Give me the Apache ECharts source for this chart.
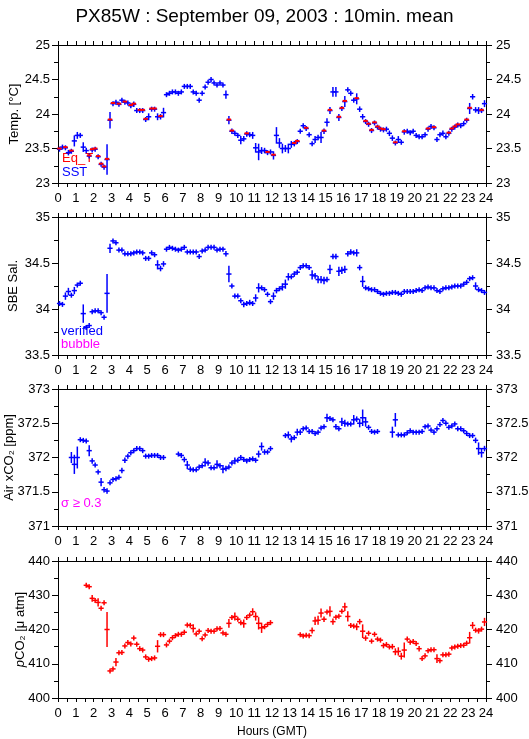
<!DOCTYPE html>
<html>
<head>
<meta charset="utf-8">
<script src="https://cdn.jsdelivr.net/npm/echarts@6/dist/echarts.min.js"></script>
<style>
html,body{margin:0;padding:0;background:#fff;}
#chart{width:529px;height:739px;}
</style>
</head>
<body>
<div id="chart"></div>
<script>
// ---- data: 10-minute means, index i covers hour (i+0.5)/6 ----
const hourTicks = [0,1,2,3,4,5,6,7,8,9,10,11,12,13,14,15,16,17,18,19,20,21,22,23,24];

const sst = [
 23.49,23.52,23.51,23.44,23.46,23.61,23.69,23.69,23.52,23.47,23.39,23.48,
 23.49,23.38,23.27,23.23,23.34,23.91,24.15,24.17,24.14,24.20,24.17,24.16,
 24.12,24.14,24.05,24.05,24.05,23.92,23.96,24.07,24.07,23.96,23.96,24.02,
 24.28,24.30,24.32,24.32,24.30,24.32,24.40,24.40,24.40,24.32,24.30,24.20,
 24.30,24.39,24.46,24.50,24.45,24.42,24.45,24.42,24.28,23.91,23.75,23.72,
 23.69,23.62,23.64,23.71,23.70,23.69,23.51,23.45,23.47,23.47,23.44,23.45,
 23.40,23.69,23.58,23.50,23.50,23.50,23.56,23.57,23.60,23.75,23.83,23.79,
 23.70,23.57,23.63,23.66,23.66,23.75,23.88,24.05,24.32,24.32,23.95,24.08,
 24.18,24.35,24.30,24.20,24.22,24.07,23.96,23.89,23.85,23.76,23.87,23.81,
 23.78,23.77,23.78,23.72,23.65,23.58,23.63,23.59,23.74,23.75,23.73,23.75,
 23.69,23.67,23.67,23.70,23.78,23.82,23.80,23.63,23.70,23.72,23.67,23.72,
 23.78,23.81,23.84,23.83,23.86,23.91,24.08,24.25,24.06,24.05,24.05,24.15
];
const sstErr = [
 0,0,0,0.04,0,0.08,0.05,0.03,0.07,0.04,0,0,
 0,0,0,0,0.22,0.12,0,0,0,0,0,0,
 0,0.04,0,0,0.03,0,0.05,0,0,0.05,0.04,0.07,
 0.03,0,0,0,0,0,0,0,0,0,0,0,
 0,0,0,0,0,0,0,0,0.06,0.06,0.04,0,
 0,0.06,0.04,0.04,0,0.05,0.07,0.12,0.05,0.04,0,0,
 0.06,0.12,0.07,0.07,0.05,0.07,0.05,0.04,0,0,0.03,0,
 0,0,0.05,0.04,0.08,0.04,0.06,0.05,0.07,0.07,0.05,0,
 0.08,0,0,0.03,0.08,0.04,0.04,0,0,0,0,0,
 0,0,0,0.04,0.04,0.03,0.05,0,0.04,0,0,0,
 0,0,0,0,0,0,0,0.03,0,0.04,0,0,
 0,0,0,0,0,0,0.08,0.04,0.04,0.05,0,0.05
];
const eqT = [
 23.50,null,23.52,null,23.47,null,null,null,null,null,23.40,23.49,
 23.50,23.39,23.28,23.24,23.35,23.92,24.16,null,24.15,null,24.18,null,
 24.13,24.15,null,24.06,24.06,23.93,null,24.08,24.08,null,23.97,null,
 null,null,null,null,null,null,null,null,null,null,null,null,
 null,null,null,null,null,null,null,null,null,23.92,23.76,null,
 null,null,null,23.72,null,null,null,null,null,null,23.45,null,
 23.41,null,null,null,null,null,null,23.58,23.61,null,null,23.80,
 null,null,null,null,null,23.76,null,24.06,null,null,23.96,24.09,
 24.19,null,null,null,24.23,null,null,23.90,23.86,23.77,23.88,23.82,
 23.79,23.78,null,null,null,23.59,null,null,23.75,null,null,null,
 null,null,null,null,23.79,null,23.81,null,null,null,null,23.73,
 23.79,23.82,23.85,null,null,23.92,24.09,null,null,null,24.06,null
];

const sal = [
 34.06,34.05,34.14,34.19,34.15,34.20,34.26,34.28,33.95,33.80,33.82,33.97,
 33.98,33.98,33.96,33.91,34.17,34.66,34.74,34.72,34.64,34.64,34.60,34.60,
 34.60,34.61,34.62,34.62,34.61,34.55,34.55,34.61,34.59,34.48,34.44,34.49,
 34.65,34.67,34.66,34.65,34.64,34.65,34.67,34.62,34.62,34.62,34.62,34.57,
 34.63,34.64,34.67,34.67,34.67,34.64,34.65,34.65,34.60,34.38,34.25,34.14,
 34.14,34.09,34.05,34.06,34.07,34.06,34.12,34.23,34.23,34.21,34.16,34.08,
 34.14,34.20,34.22,34.24,34.27,34.35,34.35,34.38,34.40,34.45,34.47,34.47,
 34.45,34.37,34.36,34.32,34.32,34.31,34.32,34.43,34.57,34.57,34.41,34.42,
 34.43,34.60,34.62,34.61,34.61,34.45,34.30,34.23,34.22,34.21,34.21,34.19,
 34.17,34.16,34.17,34.17,34.18,34.18,34.17,34.16,34.19,34.19,34.19,34.19,
 34.20,34.21,34.20,34.23,34.24,34.23,34.23,34.20,34.19,34.22,34.23,34.23,
 34.24,34.25,34.25,34.25,34.27,34.29,34.33,34.34,34.25,34.21,34.20,34.18
];
const salErr = [
 0,0,0.04,0.04,0,0.04,0,0,0.10,0,0,0,
 0,0,0,0,0.21,0.05,0,0,0,0,0,0,
 0,0,0,0,0,0,0,0,0,0.05,0.03,0.03,
 0,0,0,0,0,0,0,0,0,0,0,0,
 0,0,0,0,0,0,0,0,0.03,0.09,0.02,0,
 0,0,0.03,0,0.03,0,0.04,0.05,0,0,0,0,
 0.04,0.03,0,0.04,0.05,0.04,0,0.03,0,0,0,0,
 0,0.05,0.03,0.04,0.04,0.04,0.03,0.05,0.03,0.03,0.05,0.04,
 0.04,0.03,0.03,0,0.04,0.03,0.06,0,0,0,0,0,
 0,0,0,0,0,0,0,0,0,0,0,0,
 0,0,0,0,0,0,0,0,0,0,0,0,
 0,0,0,0,0,0,0,0,0.04,0,0,0
];

const airCO2 = [
 null,null,null,null,372.00,371.90,372.00,372.26,372.25,372.24,372.10,371.95,
 371.89,371.79,371.64,371.53,371.51,371.63,371.68,371.69,371.71,371.81,371.96,372.02,
 372.07,372.10,372.13,372.13,372.10,372.02,372.02,372.03,372.03,372.03,372.00,372.00,
 null,null,null,null,372.05,372.03,371.97,371.89,371.83,371.82,371.82,371.86,
 371.88,371.93,371.92,371.85,371.85,371.90,371.88,371.83,371.84,371.86,371.92,371.95,
 371.96,372.00,371.97,371.95,371.97,371.98,371.96,372.05,372.16,372.08,372.08,372.13,
 null,null,null,null,372.32,372.33,372.27,372.29,372.37,372.37,372.42,372.43,
 372.38,372.38,372.35,372.37,372.43,372.45,372.58,372.57,372.55,372.45,372.42,372.52,
 372.50,372.49,372.49,372.55,372.56,372.50,372.58,372.52,372.44,372.38,372.37,372.38,
 null,null,null,null,372.37,372.55,372.33,372.33,372.33,372.36,372.39,372.37,
 372.37,372.37,372.38,372.45,372.46,372.40,372.37,372.42,372.48,372.54,372.50,372.44,
 372.46,372.49,372.42,372.42,372.39,372.35,372.32,372.32,372.25,372.13,372.07,372.13
];
const airErr = [
 0,0,0,0,0.08,0.14,0.16,0,0,0,0.08,0.04,
 0,0,0.06,0.04,0.04,0,0,0,0,0.04,0.04,0,
 0,0,0,0,0,0,0,0,0,0,0,0,
 0,0,0,0,0,0,0.04,0.06,0.04,0,0,0,
 0,0.06,0.04,0,0,0.06,0,0.06,0.04,0,0,0.05,
 0,0,0,0,0,0,0,0.05,0.06,0.04,0,0,
 0,0,0,0,0,0.05,0.05,0,0.05,0.04,0,0,
 0,0,0,0,0,0.03,0.06,0.03,0,0.04,0,0.06,
 0.05,0,0,0.07,0.04,0.06,0.12,0.07,0,0,0,0,
 0,0,0,0,0.08,0.10,0,0,0,0,0,0,
 0,0,0,0,0,0,0,0,0,0,0,0,
 0,0,0,0,0,0,0,0,0.04,0.09,0.07,0.04
];

const pco2 = [
 null,null,null,null,null,null,null,null,null,432.9,432.5,429.1,
 428.5,427.9,426.2,427.8,420.0,407.9,408.5,410.5,413.2,413.3,415.2,416.2,
 415.8,417.5,415.7,414.4,414.0,412.0,411.3,411.5,411.7,415.1,418.5,418.5,
 415.5,416.6,417.6,418.2,418.6,418.6,419.2,421.3,421.2,420.3,418.7,419.5,
 417.3,418.4,419.7,419.5,419.5,420.2,420.3,419.0,418.6,421.8,423.5,423.8,
 423.0,422.0,421.7,423.5,424.2,425.2,423.8,421.8,420.5,420.8,421.5,422.0,
 null,null,null,null,null,null,null,null,null,418.5,418.1,418.3,
 418.2,419.7,422.5,422.7,424.8,423.0,425.1,425.3,422.3,423.6,423.9,425.3,
 426.6,423.8,421.2,421.0,420.8,422.3,419.5,417.5,418.9,416.6,418.6,417.2,
 416.9,415.3,415.6,414.9,415.0,413.5,413.6,412.2,414.0,417.2,416.3,416.5,
 415.9,414.4,411.5,412.3,413.8,414.1,414.1,411.5,410.9,412.6,412.6,412.8,
 414.6,414.9,415.1,415.3,415.4,416.0,417.6,421.2,419.8,419.6,420.1,422.2
];
const pco2Err = [
 0,0,0,0,0,0,0,0,0,0,0,1.0,
 0,1.2,0,0,5.1,0,0,1.2,0,0,0,0,
 0,0,0,0,0,0,0,0,0,1.8,0,0,
 0,0,0,0,0,0,0,0,0,1.2,0,0,
 0,0,0,0,0,0,0,0,0,1.3,0,1.2,
 0,0,1.2,0,0,1.0,1.2,1.8,1.5,0,0,0,
 0,0,0,0,0,0,0,0,0,0,0,0,
 0,0.9,1.2,1.3,1.3,0.8,0,1.5,0.9,0,0,0,
 1.2,1.5,0.6,0,1.0,0.8,2.0,0.8,0.7,0,0,0,
 0,0.8,0,0,0.8,1.0,1.2,1.0,2.2,0,0,0,
 0,0.8,0,0,0,0,0,1.3,0,0,0,0,
 0,0,0,0,0,0,1.7,1.0,0,0.8,0,1.2
];

// ---- build ----
const FONT = "'Liberation Sans', Arial, Helvetica, sans-serif";
const BLUE = '#0000ff', RED = '#ff0000', MAGENTA = '#ff00ff';
const hourOf = i => (i + 0.5) * 10 / 60;

function triples(vals, errs) {
  const out = [];
  vals.forEach((v, i) => { if (v !== null) out.push([hourOf(i), v, errs ? errs[i] : 0]); });
  return out;
}

function crossRender(color) {
  return function (params, api) {
    const t = api.value(0), v = api.value(1), e = api.value(2);
    const c = api.coord([t, v]);
    const up = api.coord([t, v + e])[1];
    const vh = Math.max(c[1] - up, 2.5);
    return {
      type: 'group',
      children: [
        { type: 'line', shape: { x1: c[0] - 2.6, y1: c[1], x2: c[0] + 2.6, y2: c[1] },
          style: { stroke: color, lineWidth: 1.5 } },
        { type: 'line', shape: { x1: c[0], y1: c[1] - vh, x2: c[0], y2: c[1] + vh },
          style: { stroke: color, lineWidth: 1.5 } }
      ]
    };
  };
}
function barRender(color) {
  return function (params, api) {
    const c = api.coord([api.value(0), api.value(1)]);
    return { type: 'line', shape: { x1: c[0] - 2.2, y1: c[1], x2: c[0] + 2.2, y2: c[1] },
             style: { stroke: color, lineWidth: 2 } };
  };
}

const panels = [
  { top: 45, height: 138, min: 23, max: 25, interval: 0.5, name: 'Temp. [°C]', nx: 14 },
  { top: 217, height: 138, min: 33.5, max: 35, interval: 0.5, name: 'SBE Sal.', nx: 13 },
  { top: 389, height: 137, min: 371, max: 373, interval: 0.5, name: 'Air xCO₂ [ppm]', nx: 9 },
  { top: 561, height: 137, min: 400, max: 440, interval: 10, name: '{i|p}CO₂ [μ atm]', nx: 20 }
];

const grid = [], xAxis = [], yAxis = [];
const lineBlack = { show: true, onZero: false, lineStyle: { color: '#000', width: 1 } };
panels.forEach((p, k) => {
  grid.push({ left: 58, right: 43, top: p.top, height: p.height,
              containLabel: false, outerBoundsMode: 'none' });
  const xBase = {
    gridIndex: k, type: 'value', min: 0, max: 24, interval: 1,
    axisLine: lineBlack,
    axisTick: { show: true, length: 4, lineStyle: { color: '#000' } },
    minorTick: { show: true, splitNumber: 2, length: 4, lineStyle: { color: '#000' } },
    splitLine: { show: false }, minorSplitLine: { show: false }
  };
  const bottom = Object.assign({}, xBase, {
    position: 'bottom',
    axisLabel: { show: true, margin: 9, fontSize: 13, color: '#000', fontFamily: FONT,
                 formatter: v => String(hourTicks[hourTicks.indexOf(v)]) }
  });
  if (k === 3) {
    bottom.name = 'Hours (GMT)';
    bottom.nameLocation = 'middle';
    bottom.nameGap = 28;
    bottom.nameTextStyle = { fontSize: 12, color: '#000', fontFamily: FONT };
  }
  xAxis.push(bottom);
  xAxis.push(Object.assign({}, xBase, { position: 'top', axisLabel: { show: false } }));

  const yBase = {
    gridIndex: k, type: 'value', min: p.min, max: p.max, interval: p.interval,
    axisLine: lineBlack,
    axisTick: { show: true, length: 6, lineStyle: { color: '#000' } },
    minorTick: { show: true, splitNumber: 2, length: 4, lineStyle: { color: '#000' } },
    splitLine: { show: false }, minorSplitLine: { show: false }
  };
  yAxis.push(Object.assign({}, yBase, {
    position: 'left',
    axisLabel: { margin: 8, fontSize: 13, color: '#000', fontFamily: FONT }
  }));
  yAxis.push(Object.assign({}, yBase, {
    position: 'right',
    axisLabel: { margin: 10, fontSize: 13, color: '#000', fontFamily: FONT }
  }));
});

function custom(k, data, render) {
  return { type: 'custom', xAxisIndex: 2 * k, yAxisIndex: 2 * k, data: data,
           renderItem: render, clip: false, animation: false, silent: true };
}

const series = [
  custom(0, triples(sst, sstErr), crossRender(BLUE)),
  custom(0, triples(eqT, null), barRender(RED)),
  custom(1, triples(sal, salErr), crossRender(BLUE)),
  custom(2, triples(airCO2, airErr), crossRender(BLUE)),
  custom(3, triples(pco2, pco2Err), crossRender(RED))
];

const txt = (x, y, s, color) => ({
  type: 'text', left: x, top: y,
  style: { text: s, fill: color, font: '13px ' + FONT }
});
const yName = p => ({
  type: 'text', x: p.nx, y: p.top + p.height / 2, rotation: Math.PI / 2,
  style: { text: p.name, fill: '#000', font: '13px ' + FONT,
           textAlign: 'center', textVerticalAlign: 'middle',
           rich: { i: { fontStyle: 'italic', fontSize: 13, fontFamily: FONT, fill: '#000' } } }
});

const option = {
  backgroundColor: '#fff',
  animation: false,
  title: {
    text: 'PX85W : September 09, 2003 : 10min. mean',
    left: 'center', top: 2,
    textStyle: { fontSize: 19, fontWeight: 'normal', color: '#000', fontFamily: FONT }
  },
  grid, xAxis, yAxis, series,
  graphic: panels.map(yName).concat([
    txt(62, 152, 'Eq_T', RED),
    txt(62, 166, 'SST', BLUE),
    txt(61, 325, 'verified', BLUE),
    txt(61, 338, 'bubble', MAGENTA),
    txt(61, 497, 'σ ≥ 0.3', MAGENTA)
  ])
};

const chart = echarts.init(document.getElementById('chart'), null, { renderer: 'canvas' });
chart.setOption(option);
</script>
</body>
</html>
